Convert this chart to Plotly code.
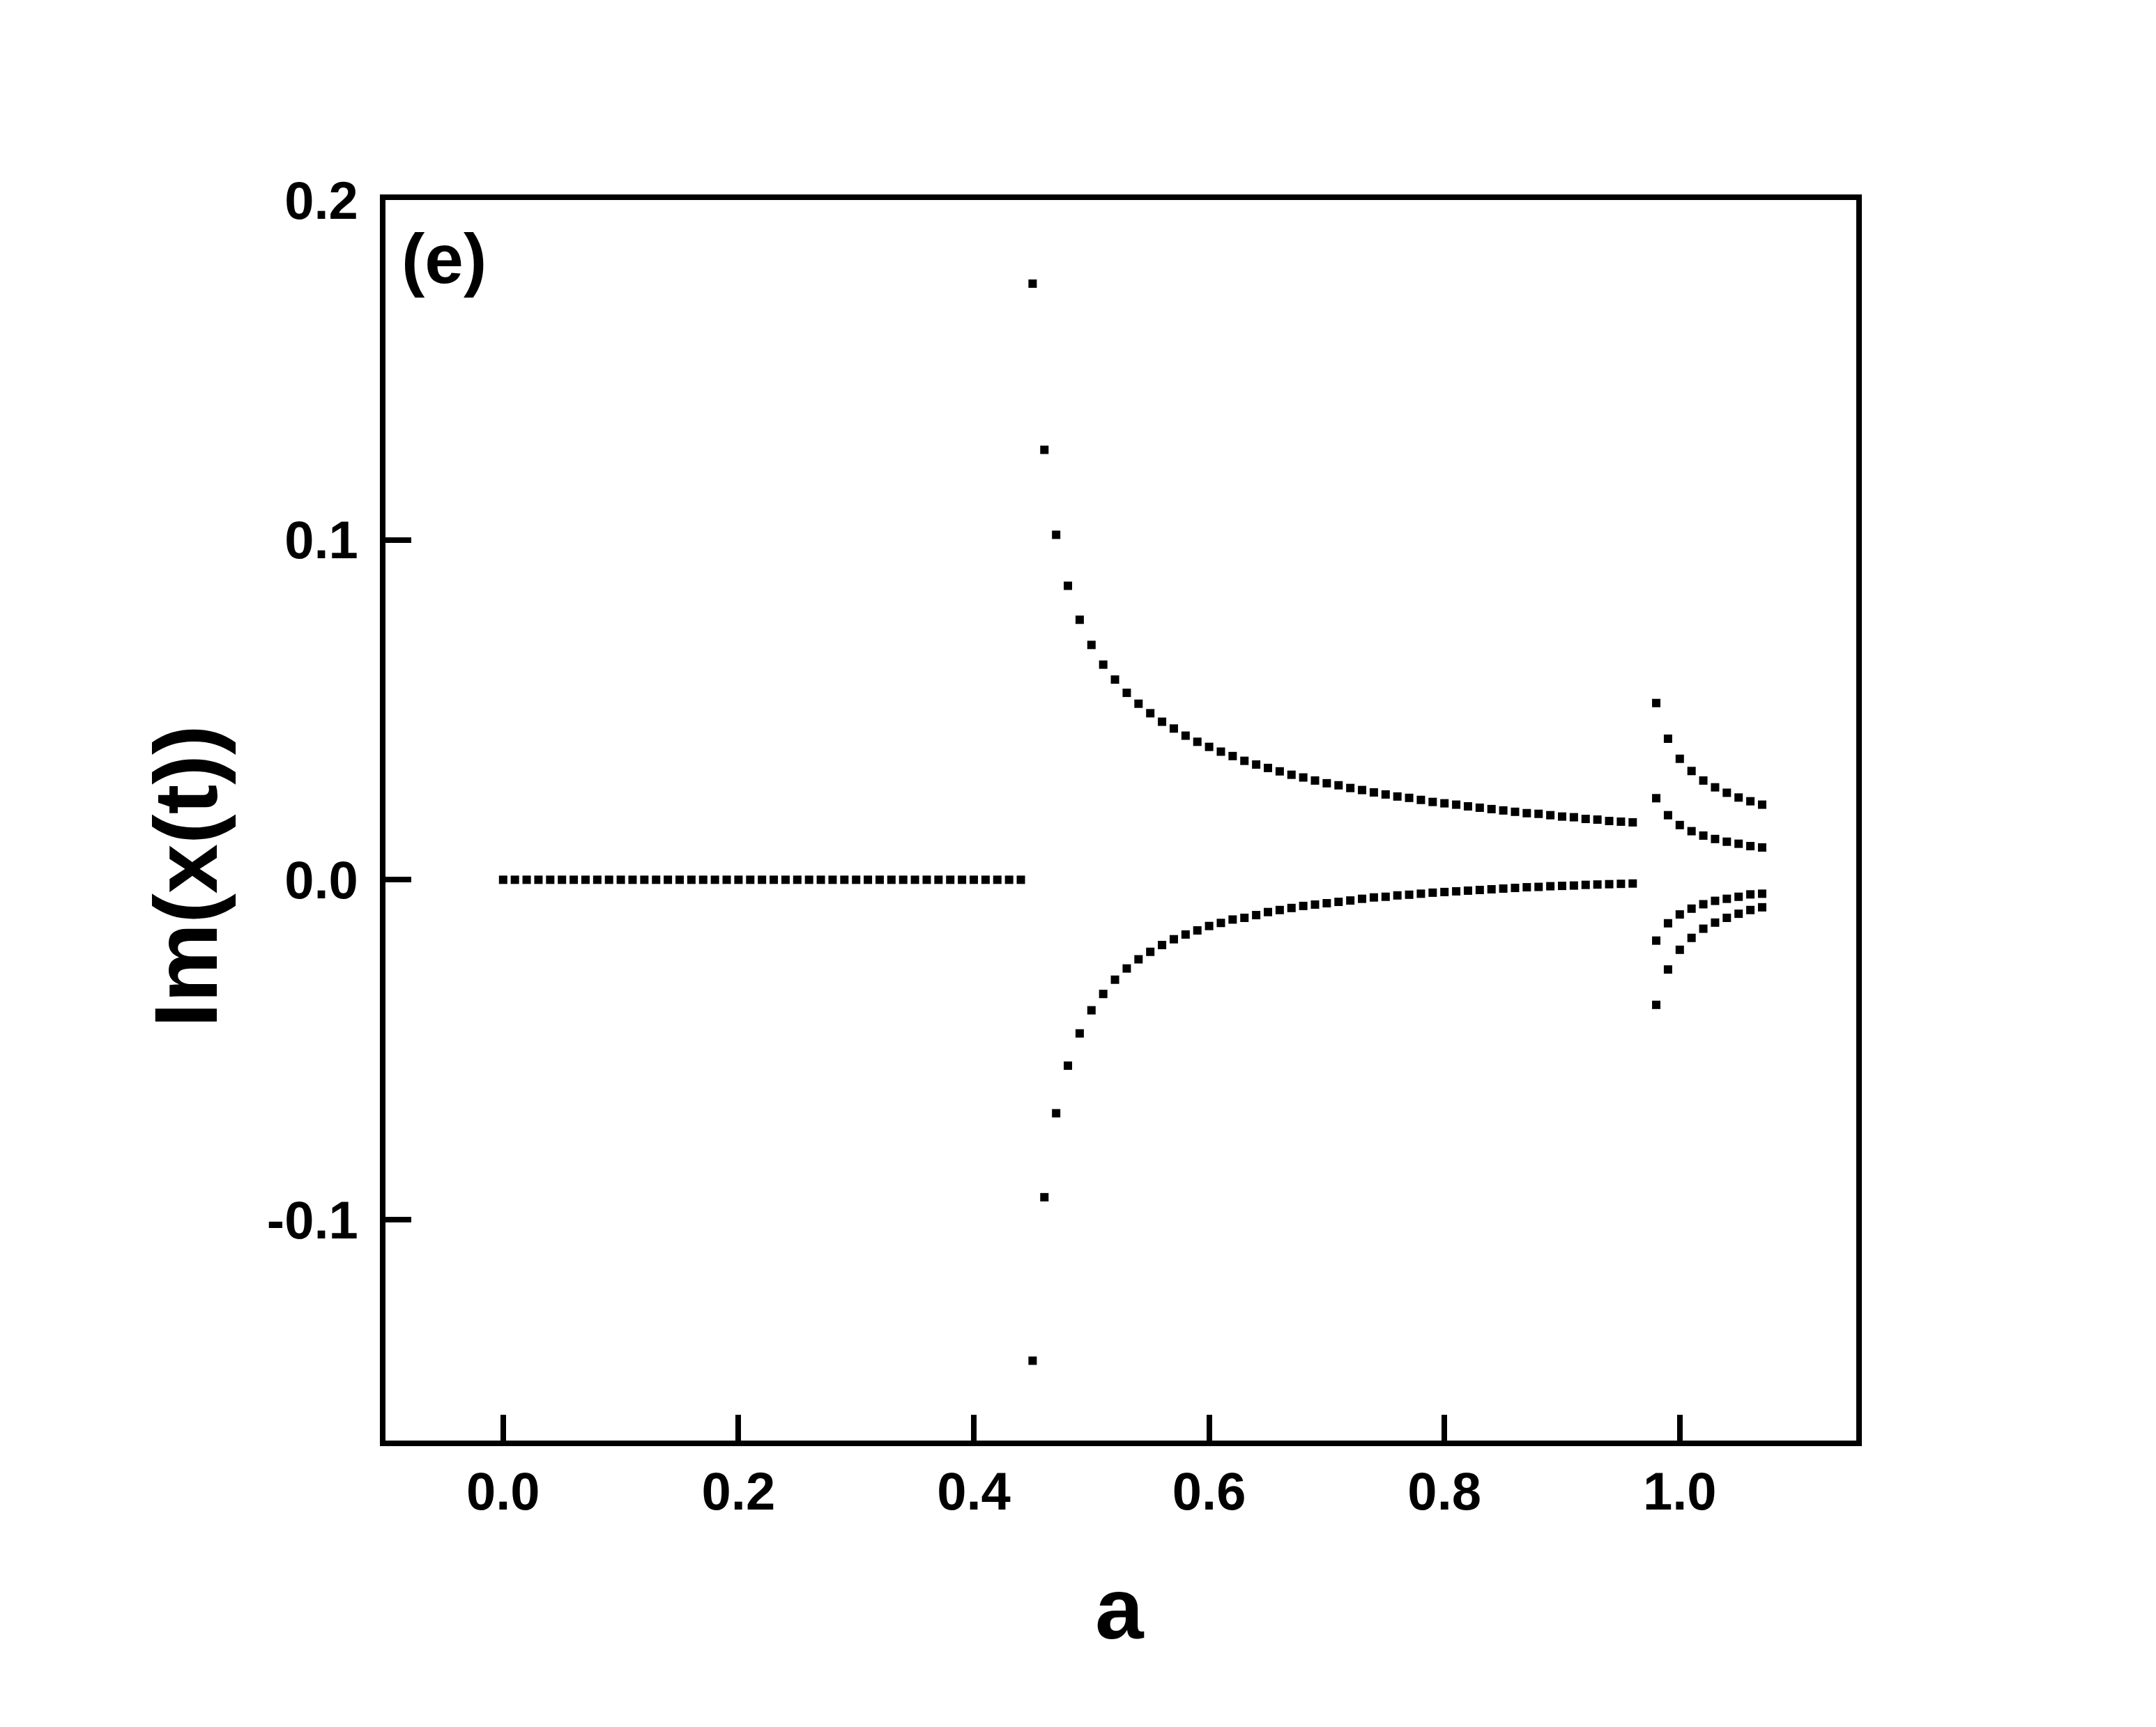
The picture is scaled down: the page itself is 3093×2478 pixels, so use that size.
import plotly.graph_objects as go

# ---------------- data ----------------
a_zero = [0.00, 0.01, 0.02, 0.03, 0.04, 0.05, 0.06, 0.07, 0.08, 0.09,
          0.10, 0.11, 0.12, 0.13, 0.14, 0.15, 0.16, 0.17, 0.18, 0.19,
          0.20, 0.21, 0.22, 0.23, 0.24, 0.25, 0.26, 0.27, 0.28, 0.29,
          0.30, 0.31, 0.32, 0.33, 0.34, 0.35, 0.36, 0.37, 0.38, 0.39,
          0.40, 0.41, 0.42, 0.43, 0.44]
im_zero = [0.0, 0.0, 0.0, 0.0, 0.0, 0.0, 0.0, 0.0, 0.0, 0.0,
           0.0, 0.0, 0.0, 0.0, 0.0, 0.0, 0.0, 0.0, 0.0, 0.0,
           0.0, 0.0, 0.0, 0.0, 0.0, 0.0, 0.0, 0.0, 0.0, 0.0,
           0.0, 0.0, 0.0, 0.0, 0.0, 0.0, 0.0, 0.0, 0.0, 0.0,
           0.0, 0.0, 0.0, 0.0, 0.0]

a_mid = [0.45, 0.46, 0.47, 0.48, 0.49, 0.50, 0.51, 0.52, 0.53, 0.54,
         0.55, 0.56, 0.57, 0.58, 0.59, 0.60, 0.61, 0.62, 0.63, 0.64,
         0.65, 0.66, 0.67, 0.68, 0.69, 0.70, 0.71, 0.72, 0.73, 0.74,
         0.75, 0.76, 0.77, 0.78, 0.79, 0.80, 0.81, 0.82, 0.83, 0.84,
         0.85, 0.86, 0.87, 0.88, 0.89, 0.90, 0.91, 0.92, 0.93, 0.94,
         0.95, 0.96]
im_upper = [0.1754, 0.1265, 0.1015, 0.0865, 0.0765, 0.0691, 0.0633, 0.0589, 0.0550, 0.0518,
            0.0490, 0.0465, 0.0445, 0.0424, 0.0406, 0.0391, 0.0377, 0.0364, 0.0350, 0.0339,
            0.0329, 0.0319, 0.0309, 0.0301, 0.0292, 0.0284, 0.0278, 0.0270, 0.0264, 0.0257,
            0.0251, 0.0245, 0.0241, 0.0235, 0.0229, 0.0225, 0.0221, 0.0216, 0.0212, 0.0208,
            0.0204, 0.0200, 0.0196, 0.0194, 0.0190, 0.0186, 0.0184, 0.0179, 0.0177, 0.0173,
            0.0171, 0.0169]
im_lower = [-0.1415, -0.0934, -0.0687, -0.0547, -0.0452, -0.0384, -0.0336, -0.0294, -0.0261, -0.0234,
            -0.0212, -0.0192, -0.0175, -0.0161, -0.0149, -0.0136, -0.0127, -0.0117, -0.0112, -0.0104,
            -0.0095, -0.0089, -0.0083, -0.0077, -0.0073, -0.0069, -0.0065, -0.0061, -0.0056, -0.0052,
            -0.0050, -0.0046, -0.0044, -0.0041, -0.0038, -0.0036, -0.0034, -0.0032, -0.0030, -0.0028,
            -0.0026, -0.0024, -0.0022, -0.0021, -0.0019, -0.0018, -0.0017, -0.0015, -0.0014, -0.0013,
            -0.0012, -0.0011]

a_end = [0.98, 0.99, 1.00, 1.01, 1.02, 1.03, 1.04, 1.05, 1.06, 1.07]
im_end_1 = [0.0520, 0.0415, 0.0356, 0.0320, 0.0292, 0.0272, 0.0256, 0.0242, 0.0231, 0.0221]
im_end_2 = [0.0240, 0.0190, 0.0161, 0.0143, 0.0130, 0.0120, 0.0112, 0.0106, 0.0099, 0.0095]
im_end_3 = [-0.0179, -0.0128, -0.0102, -0.0085, -0.0072, -0.0062, -0.0056, -0.0050, -0.0043, -0.0041]
im_end_4 = [-0.0368, -0.0264, -0.0206, -0.0171, -0.0144, -0.0126, -0.0112, -0.0100, -0.0089, -0.0081]

x_tick_vals = [0.0, 0.2, 0.4, 0.6, 0.8, 1.0]
x_tick_text = ["0.0", "0.2", "0.4", "0.6", "0.8", "1.0"]
y_tick_vals = [-0.1, 0.0, 0.1, 0.2]
y_tick_text = ["-0.1", "0.0", "0.1", "0.2"]

# ---------------- figure ----------------
FONT = "Liberation Sans, Arial, Helvetica, sans-serif"
marker = dict(symbol="square", size=12, color="black", line=dict(width=0))

fig = go.Figure()
series = [(a_zero, im_zero), (a_mid, im_upper), (a_mid, im_lower),
          (a_end, im_end_1), (a_end, im_end_2), (a_end, im_end_3), (a_end, im_end_4)]
for xs, ys in series:
    fig.add_trace(go.Scatter(x=xs, y=ys, mode="markers", marker=marker,
                             showlegend=False, hoverinfo="skip"))

axis_common = dict(
    showgrid=False, zeroline=False, showline=True, linecolor="black", linewidth=8,
    mirror=True, ticks="inside", ticklen=37, tickwidth=8, tickcolor="black",
    tickfont=dict(family=FONT, size=76, color="black", weight="bold"),
)
fig.update_xaxes(range=[-0.1, 1.15], tickmode="array", tickvals=x_tick_vals,
                 ticktext=x_tick_text, **axis_common)
fig.update_yaxes(range=[-0.165, 0.2], tickmode="array", tickvals=y_tick_vals,
                 ticktext=y_tick_text, ticklabelstandoff=16, **axis_common)

W, H = 3077, 2462
L, T = 545, 279
PW, PH = 2110, 1780
fig.update_layout(
    width=W, height=H,
    margin=dict(l=L, t=T, r=W - L - PW, b=H - T - PH, pad=0),
    paper_bgcolor="white", plot_bgcolor="white",
    annotations=[
        dict(text="(e)", xref="paper", yref="paper", x=0.01, y=0.953,
             xanchor="left", yanchor="middle", showarrow=False,
             font=dict(family=FONT, size=100, color="black", weight="bold")),
        dict(text="Im(x(t))", xref="paper", yref="paper", x=-0.136, y=0.455,
             xanchor="center", yanchor="middle", textangle=-90, showarrow=False,
             font=dict(family=FONT, size=128, color="black", weight="bold")),
        dict(text="a", xref="paper", yref="paper", x=0.4995, y=-0.135,
             xanchor="center", yanchor="middle", showarrow=False,
             font=dict(family=FONT, size=125, color="black", weight="bold")),
    ],
)

fig.write_html("out.html")
